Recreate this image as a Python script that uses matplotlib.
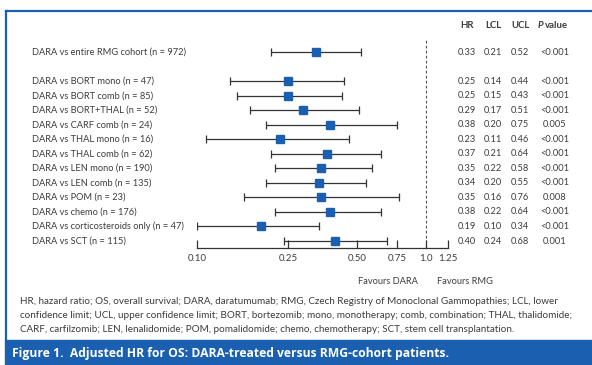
import matplotlib
matplotlib.use("Agg")
import matplotlib.pyplot as plt
import matplotlib.transforms as mtransforms
from matplotlib.patches import Rectangle
from matplotlib.lines import Line2D

# Comparisons, hazard ratios and confidence limits
labels = [
    "DARA vs entire RMG cohort (n = 972)",
    "DARA vs BORT mono (n = 47)",
    "DARA vs BORT comb (n = 85)",
    "DARA vs BORT+THAL (n = 52)",
    "DARA vs CARF comb (n = 24)",
    "DARA vs THAL mono (n = 16)",
    "DARA vs THAL comb (n = 62)",
    "DARA vs LEN mono (n = 190)",
    "DARA vs LEN comb (n = 135)",
    "DARA vs POM (n = 23)",
    "DARA vs chemo (n = 176)",
    "DARA vs corticosteroids only (n = 47)",
    "DARA vs SCT (n = 115)",
]
hr = [0.33, 0.25, 0.25, 0.29, 0.38, 0.23, 0.37, 0.35, 0.34, 0.35, 0.38, 0.19, 0.40]
lcl = [0.21, 0.14, 0.15, 0.17, 0.20, 0.11, 0.21, 0.22, 0.20, 0.16, 0.22, 0.10, 0.24]
ucl = [0.52, 0.44, 0.43, 0.51, 0.75, 0.46, 0.64, 0.58, 0.55, 0.76, 0.64, 0.34, 0.68]
pvals = ["<0.001", "<0.001", "<0.001", "<0.001", "0.005", "<0.001", "<0.001",
         "<0.001", "<0.001", "0.008", "<0.001", "<0.001", "0.001"]
xticks = [0.10, 0.25, 0.50, 0.75, 1.0, 1.25]
xticklabels = ["0.10", "0.25", "0.50", "0.75", "1.0", "1.25"]

# Row positions: the overall cohort first, then a gap row
rows = [0] + list(range(2, 14))

W, H = 592, 365
fig = plt.figure(figsize=(W / 100, H / 100), dpi=100)
plt.rcParams["font.family"] = ["Lato", "DejaVu Sans"]

BLUE = "#1a5fb0"
TXT = "#3c3c3c"
LINE = "#333333"

def fx(px):
    return px / W

def fy(py):
    return 1 - py / H

# Forest plot axes (log scale)
x0, x1 = 197, 448
ytop, ybot = 40, 248
ax = fig.add_axes([fx(x0), fy(ybot), (x1 - x0) / W, (ybot - ytop) / H])
ax.set_xscale("log")
ax.set_xlim(0.10, 1.25)
ax.set_ylim(13.48, -0.83)

for r, h, lo, hi in zip(rows, hr, lcl, ucl):
    ax.errorbar([h], [r], xerr=[[h - lo], [hi - h]], fmt="s", color=BLUE,
                ecolor=LINE, elinewidth=0.9, capsize=3.2, capthick=0.9,
                markersize=5.2, markeredgecolor=BLUE, zorder=3)

ax.axvline(1.0, color="#555555", lw=0.8, ls=(0, (2.5, 2)), zorder=1)

for s in ["top", "right", "left"]:
    ax.spines[s].set_visible(False)
ax.spines["bottom"].set_color(LINE)
ax.spines["bottom"].set_linewidth(0.9)
ax.set_yticks([])
ax.set_xticks(xticks)
ax.set_xticklabels(xticklabels)
ax.xaxis.set_minor_locator(matplotlib.ticker.NullLocator())
ax.tick_params(axis="x", direction="in", length=5.5, width=0.9, color=LINE,
               labelsize=7, labelcolor=TXT, pad=4)

# Row labels and value columns
tr = mtransforms.blended_transform_factory(fig.transFigure, ax.transData)
for r, lab, h, lo, hi, p in zip(rows, labels, hr, lcl, ucl, pvals):
    ax.text(fx(32), r, lab, transform=tr, ha="left", va="center",
            fontsize=6.7, color=TXT, clip_on=False)
    for xc, val in [(467, f"{h:.2f}"), (493, f"{lo:.2f}"), (520, f"{hi:.2f}"), (555, p)]:
        ax.text(fx(xc), r, val, transform=tr, ha="center", va="center",
                fontsize=6.7, color=TXT, clip_on=False)

# Column headers
hy = fy(25)
for xc, t in [(467, "HR"), (493, "LCL"), (520, "UCL")]:
    fig.text(fx(xc), hy, t, ha="center", va="center", fontsize=6.9,
             fontweight="bold", color=TXT)
fig.text(fx(538), hy, "P", ha="left", va="center", fontsize=6.9,
         fontweight="bold", fontstyle="italic", color=TXT)
fig.text(fx(545), hy, "value", ha="left", va="center", fontsize=6.9,
         fontweight="bold", color=TXT)

# Direction labels
fig.text(fx(418), fy(281), "Favours DARA", ha="right", va="center",
         fontsize=6.7, color=TXT)
fig.text(fx(437), fy(281), "Favours RMG", ha="left", va="center",
         fontsize=6.7, color=TXT)

# Abbreviations
foot = [
    "HR, hazard ratio; OS, overall survival; DARA, daratumumab; RMG, Czech Registry of Monoclonal Gammopathies; LCL, lower",
    "confidence limit; UCL, upper confidence limit; BORT, bortezomib; mono, monotherapy; comb, combination; THAL, thalidomide;",
    "CARF, carfilzomib; LEN, lenalidomide; POM, pomalidomide; chemo, chemotherapy; SCT, stem cell transplantation.",
]
for i, line in enumerate(foot):
    fig.text(fx(20), fy(301 + 14.5 * i), line, ha="left", va="center",
             fontsize=7.15, color=TXT)

# Frame and caption banner
fig.add_artist(Line2D([fx(6), 1], [fy(11), fy(11)], color=BLUE, lw=1.6,
                      transform=fig.transFigure))
fig.add_artist(Line2D([fx(6), fx(6)], [fy(11), fy(340)], color=BLUE, lw=1.6,
                      transform=fig.transFigure))
fig.add_artist(Rectangle((fx(5), 0), 1, fy(340), color=BLUE,
                         transform=fig.transFigure, zorder=0))
fig.text(fx(12), fy(353), "Figure 1.  Adjusted HR for OS: DARA-treated versus RMG-cohort patients.",
         ha="left", va="center", fontsize=8.7, fontweight="bold", color="white",
         family=["Open Sans", "DejaVu Sans"])

fig.savefig("out.png", dpi=100)
